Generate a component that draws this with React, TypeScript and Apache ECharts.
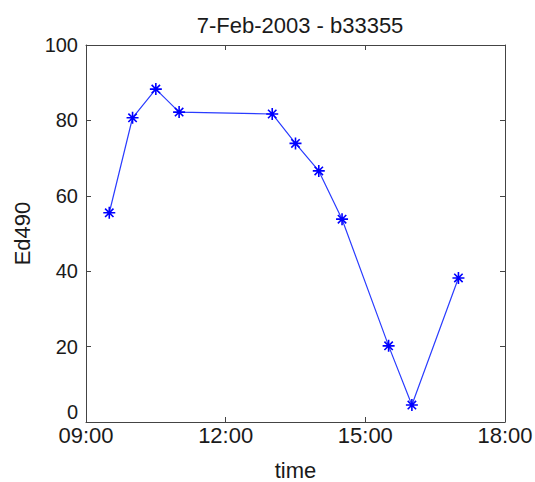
import React, { useEffect, useRef } from "react";
import * as echarts from "echarts";

// Sample times (HH:MM) and Ed490 readings
const times = ["09:30", "10:00", "10:30", "11:00", "13:00", "13:30", "14:00", "14:30", "15:30", "16:00", "17:00"];
const ed490 = [55.5, 80.7, 88.3, 82.2, 81.7, 73.9, 66.6, 53.8, 20.2, 4.5, 38.2];

const title = "7-Feb-2003 - b33355";
const xName = "time";
const yName = "Ed490";

const toHours = (t: string) => {
  const [h, m] = t.split(":").map(Number);
  return h + m / 60;
};
const fmtHour = (v: number) => `${String(Math.floor(v)).padStart(2, "0")}:00`;

// asterisk marker drawn as stroked spokes
const STAR = "path://M0,5L10,5M5,0L5,10M1.5,1.5L8.5,8.5M8.5,1.5L1.5,8.5";

const FONT = "'Liberation Sans', Arial, Helvetica, sans-serif";
const AXIS_COLOR = "#444";
const TEXT_COLOR = "#1a1a1a";

export default function App() {
  const ref = useRef<HTMLDivElement>(null);

  useEffect(() => {
    if (!ref.current) return;
    const chart = echarts.init(ref.current, undefined, { renderer: "svg" });

    const axisLine = { show: true, onZero: false, lineStyle: { color: AXIS_COLOR, width: 1 } };
    const axisTick = { show: true, inside: true, length: 5, lineStyle: { color: AXIS_COLOR } };

    chart.setOption({
      animation: false,
      backgroundColor: "#fff",
      title: {
        text: title,
        left: 295,
        textAlign: "center",
        top: 9,
        textStyle: { fontFamily: FONT, fontSize: 22, fontWeight: "normal", color: TEXT_COLOR },
      },
      // fixed plot box; labels and names sit in the margins
      grid: { left: 86, right: 30, top: 45, bottom: 60, outerBoundsMode: "none", containLabel: false },
      xAxis: [
        {
          type: "value",
          min: 9,
          max: 18,
          interval: 3,
          name: xName,
          nameLocation: "middle",
          nameGap: 37,
          nameTextStyle: { fontFamily: FONT, fontSize: 22, color: TEXT_COLOR },
          axisLine,
          axisTick,
          splitLine: { show: false },
          axisLabel: {
            fontFamily: FONT,
            fontSize: 22,
            lineHeight: 16,
            color: TEXT_COLOR,
            margin: 5,
            formatter: (v: number) => fmtHour(v),
          },
        },
        {
          type: "value",
          position: "top",
          min: 9,
          max: 18,
          interval: 3,
          axisLine,
          axisTick,
          splitLine: { show: false },
          axisLabel: { show: false },
        },
      ],
      yAxis: [
        {
          type: "value",
          min: 0,
          max: 100,
          interval: 20,
          name: yName,
          nameLocation: "middle",
          nameGap: 42,
          nameTextStyle: { fontFamily: FONT, fontSize: 22, color: TEXT_COLOR },
          axisLine,
          axisTick,
          splitLine: { show: false },
          axisLabel: {
            fontFamily: FONT,
            fontSize: 20,
            lineHeight: 16,
            color: TEXT_COLOR,
            margin: 8,
            // the zero label sits above the bottom edge, clear of the time labels
            formatter: (v: number) => (v === 0 ? "{z|0}" : String(v)),
            rich: {
              z: { fontFamily: FONT, fontSize: 20, lineHeight: 16, color: TEXT_COLOR, padding: [0, 0, 20, 0] },
            },
          },
        },
        {
          type: "value",
          position: "right",
          min: 0,
          max: 100,
          interval: 20,
          axisLine,
          axisTick,
          splitLine: { show: false },
          axisLabel: { show: false },
        },
      ],
      series: [
        {
          type: "line",
          data: times.map((t, i) => [toHours(t), ed490[i]]),
          symbol: STAR,
          symbolSize: 12,
          lineStyle: { color: "#2a3cff", width: 1.2 },
          itemStyle: { color: "#0000ff", borderColor: "#0000ff", borderWidth: 1.6 },
        },
      ],
    });

    return () => chart.dispose();
  }, []);

  return <div ref={ref} style={{ position: "absolute", left: 0, top: 0, width: 535, height: 482 }} />;
}
